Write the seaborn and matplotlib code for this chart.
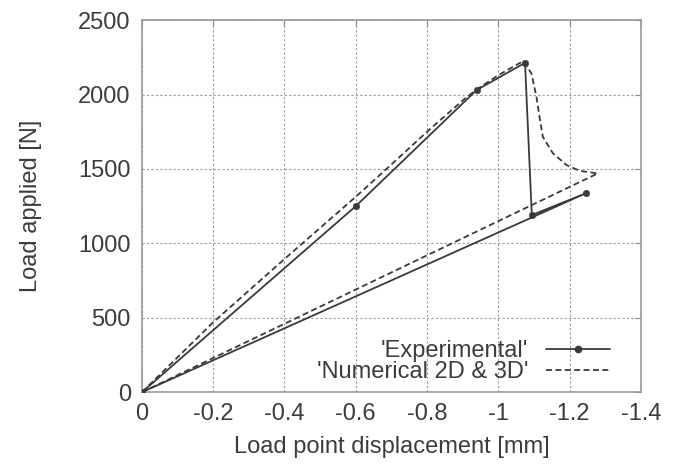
import matplotlib
matplotlib.use("Agg")
import matplotlib.pyplot as plt
import seaborn as sns
import pandas as pd
from matplotlib.lines import Line2D

# Experimental series (path order)
exp_x = [0.0, -0.60, -0.939, -1.075, -1.094, -1.246, 0.0]
exp_y = [0, 1250, 2030, 2213, 1190, 1337, 0]
exp_marker_x = [0.0, -0.60, -0.939, -1.075, -1.094, -1.246]
exp_marker_y = [0, 1250, 2030, 2213, 1190, 1337]

# Numerical 2D & 3D series (path order)
num_x = [0.0, -0.2, -0.4, -0.6, -0.7, -0.8, -0.9, -0.94, -1.0, -1.07,
         -1.093, -1.107, -1.117, -1.125, -1.153, -1.192, -1.229, -1.279, 0.0]
num_y = [0, 470, 895, 1313, 1530, 1750, 1960, 2035, 2130, 2225,
         2142, 1985, 1828, 1716, 1606, 1525, 1487, 1470, 0]

x_ticks = [0, -0.2, -0.4, -0.6, -0.8, -1.0, -1.2, -1.4]
x_tick_labels = ["0", "-0.2", "-0.4", "-0.6", "-0.8", "-1", "-1.2", "-1.4"]
y_ticks = [0, 500, 1000, 1500, 2000, 2500]

sns.set_theme(style="white")
plt.rcParams["font.family"] = ["Liberation Sans", "DejaVu Sans"]

fig = plt.figure(figsize=(6.76, 4.68), dpi=100)
ax = fig.add_axes([0.210, 0.162, 0.738, 0.795])

line_col = "#3a3a3a"
dash = (0, (3.3, 1.9))
exp_df = pd.DataFrame({"x": exp_x, "y": exp_y})
num_df = pd.DataFrame({"x": num_x, "y": num_y})
mk_df = pd.DataFrame({"x": exp_marker_x, "y": exp_marker_y})

sns.lineplot(data=exp_df, x="x", y="y", sort=False, estimator=None, ax=ax,
             color=line_col, lw=1.3, zorder=3)
sns.scatterplot(data=mk_df, x="x", y="y", ax=ax, color=line_col, s=22,
                edgecolor=line_col, zorder=4)
sns.lineplot(data=num_df, x="x", y="y", sort=False, estimator=None, ax=ax,
             color=line_col, lw=1.3, zorder=3)
ax.lines[-1].set_linestyle(dash)

ax.set_xlim(0.0, -1.4)
ax.set_ylim(0, 2500)
ax.set_xticks(x_ticks)
ax.set_xticklabels(x_tick_labels)
ax.set_yticks(y_ticks)

text_col = "#3c3c3c"
fs = 17
ax.tick_params(axis="both", direction="in", length=4, width=0.8,
               color="#888888", labelsize=fs, labelcolor=text_col, pad=8)
ax.tick_params(top=True, right=True)
ax.set_xlabel("Load point displacement [mm]", fontsize=fs, color=text_col, labelpad=8)
ax.set_ylabel("Load applied [N]", fontsize=fs, color=text_col, labelpad=26)

ax.grid(True, color="#9a9a9a", linestyle=(0, (2, 2)), linewidth=0.8)
for s in ax.spines.values():
    s.set_color("#9a9a9a")
    s.set_linewidth(1.2)

handles = [Line2D([], [], color=line_col, lw=1.3, marker="o", markersize=4.5),
           Line2D([], [], color=line_col, lw=1.3, linestyle=dash)]
leg = ax.legend(handles, ["'Experimental'", "'Numerical 2D & 3D'"],
                loc="lower right", bbox_to_anchor=(0.945, 0.015), frameon=False,
                markerfirst=False, handlelength=2.7, fontsize=fs,
                labelspacing=-0.05, handletextpad=0.75, borderaxespad=0.0,
                borderpad=0.15)
for t in leg.get_texts():
    t.set_color(text_col)

fig.savefig("out.png", dpi=100)
